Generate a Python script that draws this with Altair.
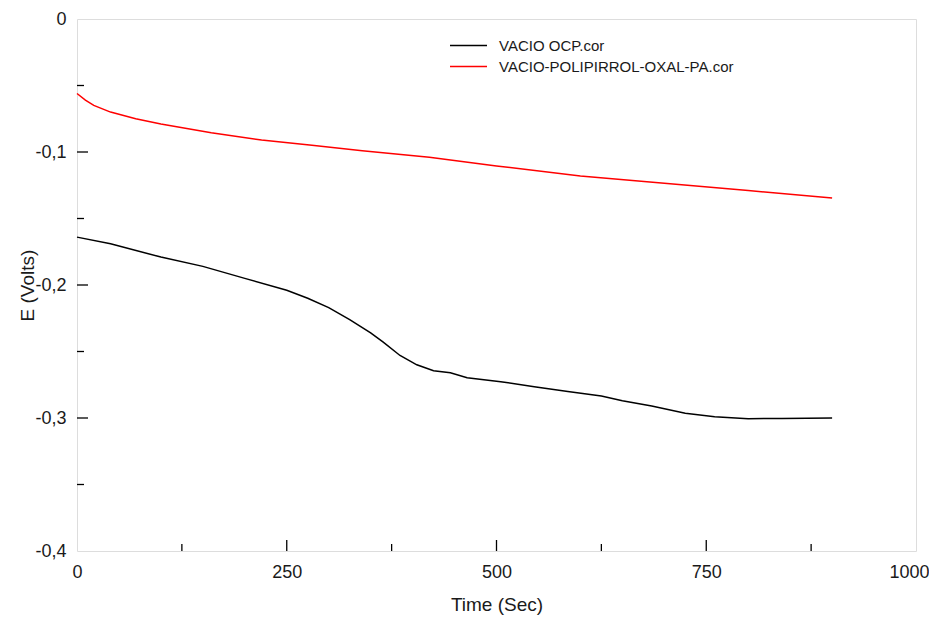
import altair as alt
import pandas as pd

# Series: VACIO OCP.cor (black)
t_ocp = [0, 40, 100, 150, 200, 250, 275, 300, 325, 350, 365, 385, 405, 425, 445,
         465, 505, 545, 585, 625, 650, 685, 725, 760, 800, 840, 900]
e_ocp = [-0.164, -0.169, -0.179, -0.186, -0.195, -0.204, -0.210, -0.217, -0.226,
         -0.236, -0.243, -0.253, -0.260, -0.2645, -0.266, -0.2697, -0.2727, -0.2765,
         -0.2800, -0.2835, -0.287, -0.291, -0.2965, -0.299, -0.3005, -0.3003, -0.300]

# Series: VACIO-POLIPIRROL-OXAL-PA.cor (red)
t_ppy = [0, 10, 20, 40, 70, 100, 160, 220, 280, 340, 420, 500, 600, 700, 800, 900]
e_ppy = [-0.056, -0.061, -0.065, -0.070, -0.075, -0.079, -0.0855, -0.091, -0.095,
         -0.099, -0.104, -0.1105, -0.118, -0.1235, -0.129, -0.1345]

series_names = ["VACIO OCP.cor", "VACIO-POLIPIRROL-OXAL-PA.cor"]
series_colors = ["black", "#ff0000"]

x_major = [0, 250, 500, 750, 1000]
x_minor = [125, 375, 625, 875]
y_major = [0, -0.1, -0.2, -0.3, -0.4]
y_minor = [-0.05, -0.15, -0.25, -0.35]

W, H = 839, 532
FONT = "Liberation Sans"
TXT = "#1a1a1a"

df = pd.concat([
    pd.DataFrame({"t": t_ocp, "E": e_ocp, "s": series_names[0]}),
    pd.DataFrame({"t": t_ppy, "E": e_ppy, "s": series_names[1]}),
])

xs = alt.Scale(domain=[0, 1000], nice=False)
ys = alt.Scale(domain=[-0.4, 0], nice=False)

lines = alt.Chart(df).mark_line(strokeWidth=1.5, interpolate="linear").encode(
    x=alt.X("t:Q", scale=xs, title="Time (Sec)",
            axis=alt.Axis(values=x_major, format="d", ticks=False, domain=False, grid=False,
                          labelFontSize=18, labelPadding=12, titleFontSize=19,
                          titleFontWeight="normal", titlePadding=14, labelFont=FONT,
                          titleFont=FONT, labelColor=TXT, titleColor=TXT,
                          labelOffset={"condition": {"test": "datum.value == 1000", "value": -7}, "value": 0},
                          labelFlush=False, labelOverlap=False)),
    y=alt.Y("E:Q", scale=ys, title="E (Volts)",
            axis=alt.Axis(values=y_major, ticks=False, domain=False, grid=False,
                          labelExpr="datum.value == 0 ? '0' : '-0,' + format(abs(datum.value)*10, '.0f')",
                          labelFontSize=18, labelPadding=11, titleFontSize=19,
                          titleFontWeight="normal", titlePadding=-3, labelFont=FONT,
                          titleFont=FONT, labelColor=TXT, titleColor=TXT,
                          labelFlush=False, labelOverlap=False)),
    color=alt.Color("s:N", scale=alt.Scale(domain=series_names, range=series_colors),
                    sort=series_names,
                    legend=alt.Legend(title=None, orient="none", legendX=384, legendY=19,
                                      symbolType="M-3.7,0L3.7,0", symbolSize=100,
                                      symbolStrokeWidth=1.5, labelFontSize=15,
                                      labelFont=FONT, labelColor=TXT, labelLimit=0,
                                      rowPadding=5, padding=0, labelOffset=23)),
)

def tick_layer(vals, axis, size):
    d = pd.DataFrame({"v": vals})
    if axis == "x":
        return alt.Chart(d).mark_rule(color="black", strokeWidth=1.3).encode(
            x=alt.X("v:Q", scale=xs), y=alt.value(H), y2=alt.value(H - size))
    return alt.Chart(d).mark_rule(color="black", strokeWidth=1.3).encode(
        y=alt.Y("v:Q", scale=ys), x=alt.value(0), x2=alt.value(size))

chart = alt.layer(
    lines,
    tick_layer(x_major[1:-1], "x", 11),
    tick_layer(x_minor, "x", 7),
    tick_layer(y_major[1:-1], "y", 11),
    tick_layer(y_minor, "y", 7),
).properties(
    width=W, height=H,
    autosize=alt.AutoSizeParams(type="none"),
    padding={"left": 69, "top": 11, "right": 13, "bottom": 66},
).configure_view(stroke="black", strokeWidth=1.5).configure(background="white")

chart.save("out.html", embed_options={"renderer": "svg", "actions": False})
